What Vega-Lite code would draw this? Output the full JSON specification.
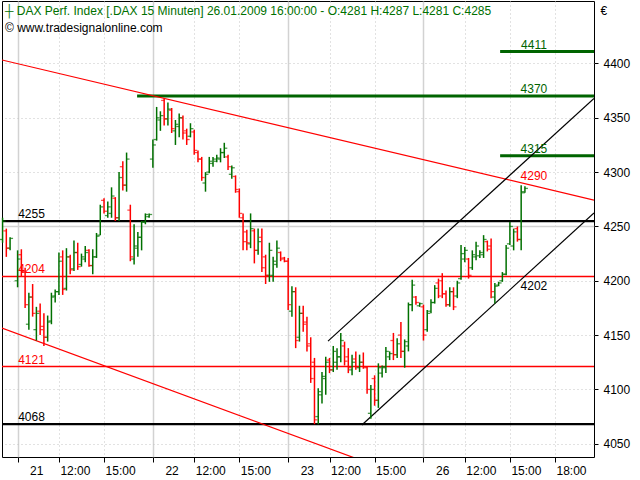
{
  "$schema": "https://vega.github.io/schema/vega-lite/v6.json",
  "width": 592,
  "height": 456,
  "autosize": {"type": "none"},
  "padding": {"left": 2, "top": 1, "right": 46, "bottom": 23},
  "background": "white",
  "config": {
    "view": {"stroke": "black", "strokeWidth": 1},
    "font": "Liberation Sans"
  },
  "title": {
    "text": "┼ DAX Perf. Index [.DAX  15 Minuten] 26.01.2009 16:00:00 - O:4281 H:4287 L:4281 C:4285",
    "subtitle": "© www.tradesignalonline.com",
    "anchor": "start",
    "frame": "group",
    "orient": "top",
    "offset": -34,
    "dx": 3,
    "font": "Liberation Sans",
    "fontSize": 12,
    "fontWeight": "normal",
    "color": "#007000",
    "subtitleFont": "Liberation Sans",
    "subtitleFontSize": 12,
    "subtitleColor": "#000000",
    "subtitlePadding": 5
  },
  "datasets": {
    "bars": [
      {"k": -4, "o": 4238, "h": 4258, "l": 4235, "c": 4255},
      {"k": -3, "o": 4246, "h": 4248, "l": 4222, "c": 4230},
      {"k": -2, "o": 4230, "h": 4240, "l": 4228, "c": 4239},
      {"k": 0, "o": 4200, "h": 4228, "l": 4194, "c": 4220},
      {"k": 1, "o": 4224, "h": 4229, "l": 4204, "c": 4208},
      {"k": 2, "o": 4208, "h": 4212, "l": 4175, "c": 4178},
      {"k": 3, "o": 4160, "h": 4189, "l": 4155, "c": 4185},
      {"k": 4, "o": 4185, "h": 4197, "l": 4167, "c": 4170},
      {"k": 5, "o": 4155, "h": 4176, "l": 4145, "c": 4170},
      {"k": 6, "o": 4172, "h": 4179, "l": 4150, "c": 4155},
      {"k": 7, "o": 4158, "h": 4170, "l": 4140, "c": 4148},
      {"k": 8, "o": 4148, "h": 4168, "l": 4144, "c": 4162},
      {"k": 9, "o": 4163, "h": 4189, "l": 4160, "c": 4185},
      {"k": 10, "o": 4186, "h": 4192, "l": 4180, "c": 4190},
      {"k": 11, "o": 4190, "h": 4226, "l": 4187, "c": 4218},
      {"k": 12, "o": 4222, "h": 4228, "l": 4187, "c": 4192},
      {"k": 13, "o": 4193, "h": 4230, "l": 4191, "c": 4222},
      {"k": 14, "o": 4222, "h": 4224, "l": 4206, "c": 4210},
      {"k": 15, "o": 4211, "h": 4237, "l": 4209, "c": 4226},
      {"k": 16, "o": 4226, "h": 4235, "l": 4210, "c": 4213},
      {"k": 17, "o": 4215, "h": 4225, "l": 4213, "c": 4222},
      {"k": 18, "o": 4220, "h": 4232, "l": 4217, "c": 4226},
      {"k": 19, "o": 4228, "h": 4229, "l": 4213, "c": 4214},
      {"k": 20, "o": 4214, "h": 4229, "l": 4206, "c": 4222},
      {"k": 21, "o": 4222, "h": 4244, "l": 4221, "c": 4241},
      {"k": 22, "o": 4242, "h": 4270, "l": 4242, "c": 4268},
      {"k": 23, "o": 4274, "h": 4276, "l": 4262, "c": 4264},
      {"k": 24, "o": 4260, "h": 4273, "l": 4258, "c": 4268},
      {"k": 25, "o": 4262, "h": 4286, "l": 4258, "c": 4278},
      {"k": 26, "o": 4276, "h": 4277, "l": 4255, "c": 4258},
      {"k": 27, "o": 4258, "h": 4300, "l": 4255, "c": 4295},
      {"k": 28, "o": 4305, "h": 4310, "l": 4283, "c": 4288},
      {"k": 29, "o": 4288, "h": 4318, "l": 4282, "c": 4312},
      {"k": 30, "o": 4265, "h": 4270, "l": 4218, "c": 4222},
      {"k": 31, "o": 4220, "h": 4252, "l": 4215, "c": 4232},
      {"k": 32, "o": 4230, "h": 4245, "l": 4222, "c": 4240},
      {"k": 33, "o": 4240, "h": 4255, "l": 4228, "c": 4254},
      {"k": 34, "o": 4254, "h": 4262, "l": 4252, "c": 4261},
      {"k": 35, "o": 4259, "h": 4262, "l": 4258, "c": 4261},
      {"k": 36, "o": 4312, "h": 4330, "l": 4304, "c": 4325},
      {"k": 37, "o": 4330, "h": 4360, "l": 4329, "c": 4350},
      {"k": 38, "o": 4348, "h": 4356, "l": 4338, "c": 4352},
      {"k": 39, "o": 4366, "h": 4368, "l": 4343, "c": 4349},
      {"k": 40, "o": 4349, "h": 4364, "l": 4343, "c": 4358},
      {"k": 41, "o": 4357, "h": 4359, "l": 4336, "c": 4340},
      {"k": 42, "o": 4338, "h": 4348, "l": 4325, "c": 4344},
      {"k": 43, "o": 4342, "h": 4354, "l": 4332, "c": 4350},
      {"k": 44, "o": 4350, "h": 4352, "l": 4330, "c": 4336},
      {"k": 45, "o": 4338, "h": 4340, "l": 4325, "c": 4330},
      {"k": 46, "o": 4333, "h": 4345, "l": 4332, "c": 4340},
      {"k": 47, "o": 4337, "h": 4339, "l": 4316, "c": 4320},
      {"k": 48, "o": 4318, "h": 4320, "l": 4309, "c": 4312},
      {"k": 49, "o": 4312, "h": 4314, "l": 4292, "c": 4295},
      {"k": 50, "o": 4290, "h": 4300, "l": 4282, "c": 4298},
      {"k": 51, "o": 4300, "h": 4314, "l": 4299, "c": 4310},
      {"k": 52, "o": 4308, "h": 4314, "l": 4305, "c": 4312},
      {"k": 53, "o": 4310, "h": 4316, "l": 4309, "c": 4313},
      {"k": 54, "o": 4312, "h": 4322, "l": 4309, "c": 4318},
      {"k": 55, "o": 4318, "h": 4327, "l": 4313, "c": 4322},
      {"k": 56, "o": 4314, "h": 4316, "l": 4302, "c": 4305},
      {"k": 57, "o": 4298, "h": 4306, "l": 4294, "c": 4304},
      {"k": 58, "o": 4296, "h": 4297, "l": 4281, "c": 4284},
      {"k": 59, "o": 4282, "h": 4285, "l": 4258, "c": 4262},
      {"k": 60, "o": 4258, "h": 4262, "l": 4228, "c": 4236},
      {"k": 61, "o": 4245, "h": 4247, "l": 4228, "c": 4235},
      {"k": 62, "o": 4234, "h": 4262, "l": 4230, "c": 4248},
      {"k": 63, "o": 4246, "h": 4248, "l": 4216, "c": 4228},
      {"k": 64, "o": 4228, "h": 4248, "l": 4224, "c": 4236},
      {"k": 65, "o": 4240, "h": 4248, "l": 4208, "c": 4212},
      {"k": 66, "o": 4222, "h": 4224, "l": 4197, "c": 4205},
      {"k": 67, "o": 4205, "h": 4235, "l": 4199, "c": 4228},
      {"k": 68, "o": 4205, "h": 4222, "l": 4199, "c": 4218},
      {"k": 69, "o": 4215, "h": 4237, "l": 4212, "c": 4230},
      {"k": 70, "o": 4226, "h": 4227, "l": 4218, "c": 4220},
      {"k": 71, "o": 4221, "h": 4222, "l": 4217, "c": 4218},
      {"k": 72, "o": 4218, "h": 4221, "l": 4173, "c": 4178},
      {"k": 73, "o": 4172, "h": 4195, "l": 4167, "c": 4190},
      {"k": 74, "o": 4190, "h": 4194, "l": 4138, "c": 4145},
      {"k": 75, "o": 4148, "h": 4177, "l": 4144, "c": 4170},
      {"k": 76, "o": 4170, "h": 4177, "l": 4153, "c": 4160},
      {"k": 77, "o": 4162, "h": 4167, "l": 4135, "c": 4140},
      {"k": 78, "o": 4142, "h": 4148, "l": 4106, "c": 4110},
      {"k": 79, "o": 4125, "h": 4129, "l": 4068, "c": 4072},
      {"k": 80, "o": 4075, "h": 4101, "l": 4068, "c": 4098},
      {"k": 81, "o": 4095, "h": 4116, "l": 4087, "c": 4112},
      {"k": 82, "o": 4110, "h": 4130, "l": 4095, "c": 4125},
      {"k": 83, "o": 4127, "h": 4129, "l": 4115, "c": 4118},
      {"k": 84, "o": 4118, "h": 4140, "l": 4116, "c": 4135},
      {"k": 85, "o": 4125, "h": 4138, "l": 4118, "c": 4130},
      {"k": 86, "o": 4130, "h": 4152, "l": 4125, "c": 4145},
      {"k": 87, "o": 4140, "h": 4144, "l": 4122, "c": 4126},
      {"k": 88, "o": 4130, "h": 4138, "l": 4115, "c": 4120},
      {"k": 89, "o": 4118, "h": 4132, "l": 4113, "c": 4125},
      {"k": 90, "o": 4128, "h": 4135, "l": 4118, "c": 4121},
      {"k": 91, "o": 4120, "h": 4132, "l": 4116, "c": 4125},
      {"k": 92, "o": 4125, "h": 4134, "l": 4119, "c": 4121},
      {"k": 93, "o": 4120, "h": 4121, "l": 4096, "c": 4100},
      {"k": 94, "o": 4078, "h": 4104, "l": 4073, "c": 4100},
      {"k": 95, "o": 4110, "h": 4113, "l": 4085, "c": 4090},
      {"k": 96, "o": 4090, "h": 4124, "l": 4083, "c": 4120},
      {"k": 97, "o": 4115, "h": 4122, "l": 4111, "c": 4121},
      {"k": 98, "o": 4120, "h": 4139, "l": 4115, "c": 4135},
      {"k": 99, "o": 4130, "h": 4135, "l": 4127, "c": 4133},
      {"k": 100, "o": 4145, "h": 4152, "l": 4127, "c": 4132},
      {"k": 101, "o": 4132, "h": 4147, "l": 4129, "c": 4142},
      {"k": 102, "o": 4150, "h": 4162, "l": 4129, "c": 4135},
      {"k": 103, "o": 4135, "h": 4146, "l": 4120, "c": 4144},
      {"k": 104, "o": 4140, "h": 4180, "l": 4135, "c": 4178},
      {"k": 105, "o": 4178, "h": 4201, "l": 4172, "c": 4196},
      {"k": 106, "o": 4185, "h": 4186, "l": 4178, "c": 4180},
      {"k": 107, "o": 4177, "h": 4180, "l": 4176, "c": 4179},
      {"k": 108, "o": 4176, "h": 4178, "l": 4145, "c": 4150},
      {"k": 109, "o": 4155, "h": 4173, "l": 4153, "c": 4170},
      {"k": 110, "o": 4172, "h": 4183, "l": 4170, "c": 4180},
      {"k": 111, "o": 4180, "h": 4196, "l": 4179, "c": 4193},
      {"k": 112, "o": 4198, "h": 4202, "l": 4184, "c": 4186},
      {"k": 113, "o": 4200, "h": 4207, "l": 4184, "c": 4188},
      {"k": 114, "o": 4188, "h": 4191, "l": 4176, "c": 4178},
      {"k": 115, "o": 4178, "h": 4194, "l": 4176, "c": 4190},
      {"k": 116, "o": 4190, "h": 4194, "l": 4173, "c": 4176},
      {"k": 117, "o": 4186, "h": 4200, "l": 4184, "c": 4198},
      {"k": 118, "o": 4202, "h": 4233, "l": 4201, "c": 4225},
      {"k": 119, "o": 4220, "h": 4231, "l": 4217, "c": 4228},
      {"k": 120, "o": 4220, "h": 4221, "l": 4202, "c": 4205},
      {"k": 121, "o": 4212, "h": 4228, "l": 4210, "c": 4224},
      {"k": 122, "o": 4222, "h": 4236, "l": 4219, "c": 4232},
      {"k": 123, "o": 4223, "h": 4228, "l": 4221, "c": 4226},
      {"k": 124, "o": 4224, "h": 4242, "l": 4221, "c": 4238},
      {"k": 125, "o": 4236, "h": 4237, "l": 4227, "c": 4229},
      {"k": 126, "o": 4232, "h": 4239, "l": 4184, "c": 4190},
      {"k": 127, "o": 4185, "h": 4198, "l": 4179, "c": 4195},
      {"k": 128, "o": 4196, "h": 4199, "l": 4195, "c": 4198},
      {"k": 129, "o": 4200, "h": 4208, "l": 4199, "c": 4206},
      {"k": 130, "o": 4206, "h": 4233, "l": 4205, "c": 4230},
      {"k": 131, "o": 4234, "h": 4254, "l": 4233, "c": 4250},
      {"k": 132, "o": 4232, "h": 4248, "l": 4228, "c": 4245},
      {"k": 133, "o": 4248, "h": 4250, "l": 4236, "c": 4238},
      {"k": 134, "o": 4238, "h": 4288, "l": 4228, "c": 4282},
      {"k": 135, "o": 4281, "h": 4287, "l": 4281, "c": 4285}
    ],
    "levels": [
      {"v": 4411, "from": 128.4, "to": 153.38, "kind": "target"},
      {"v": 4370, "from": 31.8, "to": 153.38, "kind": "target"},
      {"v": 4315, "from": 128.4, "to": 153.38, "kind": "target"},
      {"v": 4255, "from": -4.15, "to": 153.38, "kind": "pivot"},
      {"v": 4068, "from": -4.15, "to": 153.38, "kind": "pivot"},
      {"v": 4204, "from": -4.15, "to": 153.38, "kind": "support"},
      {"v": 4121, "from": -4.15, "to": 153.38, "kind": "support"}
    ],
    "trends": [
      {"line": "upper red", "kind": "trend", "k": -4.15, "p": 4403.2},
      {"line": "upper red", "kind": "trend", "k": 153.38, "p": 4274.3},
      {"line": "lower red", "kind": "trend", "k": -4.15, "p": 4156.5},
      {"line": "lower red", "kind": "trend", "k": 153.38, "p": 3955.8},
      {"line": "channel top", "kind": "channel", "k": 82.6, "p": 4144.5},
      {"line": "channel top", "kind": "channel", "k": 153.38, "p": 4367.8},
      {"line": "channel bottom", "kind": "channel", "k": 91.6, "p": 4067.2},
      {"line": "channel bottom", "kind": "channel", "k": 153.38, "p": 4262.4}
    ],
    "labels": [
      {"text": "4411", "k": 137.4, "v": 4411, "kind": "target"},
      {"text": "4370", "k": 137.4, "v": 4370, "kind": "target"},
      {"text": "4315", "k": 137.4, "v": 4315, "kind": "target"},
      {"text": "4290", "k": 137.4, "v": 4290, "kind": "trend"},
      {"text": "4202", "k": 137.4, "v": 4202, "kind": "channel"},
      {"text": "4255", "k": 3.7, "v": 4255, "kind": "pivot"},
      {"text": "4204", "k": 3.7, "v": 4204, "kind": "support"},
      {"text": "4121", "k": 3.7, "v": 4121, "kind": "support"},
      {"text": "4068", "k": 3.7, "v": 4068, "kind": "pivot"}
    ]
  },
  "layer": [
    {
      "data": {"name": "levels"},
      "mark": {"type": "rule", "clip": true},
      "encoding": {
        "x": {
          "field": "from", "type": "quantitative",
          "scale": {"domain": [-4.15, 153.38], "nice": false, "zero": false},
          "axis": {
            "title": null,
            "orient": "bottom",
            "values": [0, 11, 23, 36, 47, 59, 72, 83, 95, 108, 119, 131, 143],
            "labelExpr": "datum.value==0?'21':datum.value==36?'22':datum.value==72?'23':datum.value==108?'26':(datum.value==11||datum.value==47||datum.value==83||datum.value==119)?'12:00':datum.value==143?'18:00':'15:00'",
            "labelAlign": "left",
            "labelOffset": {"condition": {"test": "datum.value==0||datum.value==36||datum.value==72||datum.value==108", "value": 12}, "value": 1},
            "labelFont": "Liberation Sans",
            "labelFontSize": 12,
            "labelColor": "#000000",
            "labelPadding": 3,
            "labelOverlap": false,
            "labelFlush": false,
            "tickSize": 5,
            "tickColor": "#000000",
            "domain": false,
            "grid": true,
            "gridColor": {"condition": {"test": "datum.value==0||datum.value==36||datum.value==72||datum.value==108", "value": "#d2d2d2"}, "value": "#c4c4c4"},
            "gridDash": {"condition": {"test": "datum.value==0||datum.value==36||datum.value==72||datum.value==108", "value": []}, "value": [1, 3]},
            "gridWidth": {"condition": {"test": "datum.value==0||datum.value==36||datum.value==72||datum.value==108", "value": 1.5}, "value": 1}
          }
        },
        "x2": {"field": "to"},
        "y": {
          "field": "v", "type": "quantitative",
          "scale": {"domain": [4037.8, 4457.5], "nice": false, "zero": false},
          "axis": {
            "orient": "right",
            "values": [4050, 4100, 4150, 4200, 4250, 4300, 4350, 4400],
            "format": "d",
            "labelFont": "Liberation Sans",
            "labelFontSize": 12,
            "labelColor": "#000000",
            "labelPadding": 5,
            "tickSize": 4,
            "tickColor": "#000000",
            "domain": false,
            "grid": true,
            "gridColor": {"condition": {"test": "datum.value==4250", "value": "#d2d2d2"}, "value": "#c4c4c4"},
            "gridDash": {"condition": {"test": "datum.value==4250", "value": []}, "value": [1, 3]},
            "gridWidth": {"condition": {"test": "datum.value==4250", "value": 1.5}, "value": 1},
            "title": "€",
            "titleAngle": 0,
            "titleX": 6,
            "titleY": 4,
            "titleAlign": "left",
            "titleBaseline": "top",
            "titleFont": "Liberation Sans",
            "titleFontSize": 12,
            "titleFontWeight": "normal",
            "titleColor": "#000000"
          }
        },
        "color": {
          "field": "kind", "type": "nominal",
          "scale": {"domain": ["target", "pivot", "support", "trend", "channel"], "range": ["#006400", "#000000", "#ff0000", "#ff0000", "#000000"]},
          "legend": null
        },
        "strokeWidth": {
          "field": "kind", "type": "nominal",
          "scale": {"domain": ["target", "pivot", "support"], "range": [3, 1.5, 1.5]},
          "legend": null
        }
      }
    },
    {
      "data": {"name": "trends"},
      "mark": {"type": "line", "clip": true, "strokeWidth": 1.2},
      "encoding": {
        "x": {"field": "k", "type": "quantitative"},
        "y": {"field": "p", "type": "quantitative"},
        "detail": {"field": "line"},
        "color": {"field": "kind", "type": "nominal", "legend": null}
      }
    },
    {
      "data": {"name": "bars"},
      "mark": {"type": "rule", "strokeWidth": 1.5},
      "encoding": {
        "x": {"field": "k", "type": "quantitative"},
        "y": {"field": "l", "type": "quantitative"},
        "y2": {"field": "h"},
        "color": {"condition": {"test": "datum.c >= datum.o", "value": "#007000"}, "value": "#ff0000"}
      }
    },
    {
      "data": {"name": "bars"},
      "mark": {"type": "tick", "orient": "horizontal", "size": 3, "thickness": 1.3, "xOffset": -1.5},
      "encoding": {
        "x": {"field": "k", "type": "quantitative"},
        "y": {"field": "o", "type": "quantitative"},
        "color": {"condition": {"test": "datum.c >= datum.o", "value": "#007000"}, "value": "#ff0000"}
      }
    },
    {
      "data": {"name": "bars"},
      "mark": {"type": "tick", "orient": "horizontal", "size": 3, "thickness": 1.3, "xOffset": 1.5},
      "encoding": {
        "x": {"field": "k", "type": "quantitative"},
        "y": {"field": "c", "type": "quantitative"},
        "color": {"condition": {"test": "datum.c >= datum.o", "value": "#007000"}, "value": "#ff0000"}
      }
    },
    {
      "data": {"name": "labels"},
      "transform": [{"filter": "datum.kind != 'channel'"}],
      "mark": {"type": "text", "font": "Liberation Sans", "fontSize": 12, "align": "center", "baseline": "alphabetic", "dy": -3},
      "encoding": {
        "x": {"field": "k", "type": "quantitative"},
        "y": {"field": "v", "type": "quantitative"},
        "text": {"field": "text"},
        "color": {"field": "kind", "type": "nominal", "legend": null}
      }
    },
    {
      "data": {"name": "labels"},
      "transform": [{"filter": "datum.kind == 'channel'"}],
      "mark": {"type": "text", "font": "Liberation Sans", "fontSize": 12, "align": "center", "baseline": "top", "dy": 2},
      "encoding": {
        "x": {"field": "k", "type": "quantitative"},
        "y": {"field": "v", "type": "quantitative"},
        "text": {"field": "text"},
        "color": {"field": "kind", "type": "nominal", "legend": null}
      }
    }
  ]
}
